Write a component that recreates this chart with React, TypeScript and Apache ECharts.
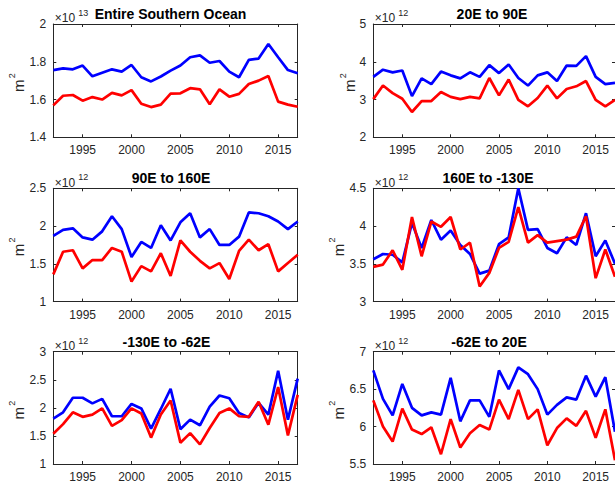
import React, { useEffect, useRef } from "react";
import * as echarts from "echarts";

// ---- Data ----
const years = [
  1992, 1993, 1994, 1995, 1996, 1997, 1998, 1999, 2000, 2001, 2002, 2003, 2004,
  2005, 2006, 2007, 2008, 2009, 2010, 2011, 2012, 2013, 2014, 2015, 2016, 2017,
];
const xTickValues = [1995, 2000, 2005, 2010, 2015];

const titles = [
  "Entire Southern Ocean",
  "20E to 90E",
  "90E to 160E",
  "160E to -130E",
  "-130E to -62E",
  "-62E to 20E",
];
const exponents = [13, 12, 12, 12, 12, 12];
const yMins = [1.4, 2, 1, 3, 1, 5.5];
const yMaxs = [2, 5, 2.5, 4.5, 3, 7];
const yIntervals = [0.2, 1, 0.5, 0.5, 0.5, 0.5];

// values in units of 10^exponent m^2
const soBlue = [1.756, 1.765, 1.76, 1.78, 1.723, 1.742, 1.76, 1.748, 1.783, 1.718, 1.696, 1.722, 1.753, 1.78, 1.824, 1.834, 1.795, 1.804, 1.748, 1.718, 1.81, 1.817, 1.894, 1.824, 1.756, 1.739];
const soRed = [1.569, 1.62, 1.624, 1.594, 1.613, 1.6, 1.635, 1.622, 1.65, 1.578, 1.56, 1.573, 1.631, 1.633, 1.66, 1.654, 1.575, 1.654, 1.615, 1.63, 1.682, 1.7, 1.725, 1.589, 1.573, 1.562];

const e20Blue = [3.6, 3.79, 3.72, 3.77, 3.09, 3.56, 3.41, 3.74, 3.64, 3.56, 3.72, 3.6, 3.91, 3.7, 3.93, 3.57, 3.37, 3.64, 3.72, 3.49, 3.9, 3.89, 4.15, 3.6, 3.41, 3.44];
const e20Red = [3.01, 3.37, 3.17, 3.02, 2.67, 2.96, 2.96, 3.2, 3.07, 3.01, 3.07, 3.03, 3.57, 3.11, 3.53, 2.99, 2.82, 3.04, 3.37, 3.03, 3.28, 3.35, 3.49, 2.99, 2.82, 2.99];

const e90Blue = [1.87, 1.95, 1.97, 1.85, 1.82, 1.93, 2.13, 1.96, 1.59, 1.79, 1.71, 2.01, 1.81, 2.05, 2.17, 1.85, 1.96, 1.75, 1.75, 1.86, 2.18, 2.17, 2.13, 2.06, 1.96, 2.06];
const e90Red = [1.36, 1.66, 1.68, 1.44, 1.55, 1.55, 1.71, 1.66, 1.265, 1.47, 1.4, 1.64, 1.34, 1.81, 1.66, 1.54, 1.44, 1.51, 1.3, 1.67, 1.82, 1.68, 1.76, 1.4, 1.51, 1.62];

const e160Blue = [3.56, 3.63, 3.62, 3.52, 4.04, 3.71, 4.08, 3.82, 3.94, 3.75, 3.63, 3.37, 3.41, 3.76, 3.85, 4.5, 3.95, 3.96, 3.71, 3.64, 3.85, 3.75, 4.17, 3.6, 3.81, 3.5];
const e160Red = [3.46, 3.49, 3.68, 3.42, 4.12, 3.6, 4.06, 3.99, 4.12, 3.69, 3.78, 3.2, 3.38, 3.71, 3.79, 4.25, 3.78, 3.88, 3.78, 3.8, 3.82, 3.86, 4.13, 3.31, 3.69, 3.33];

const w130Blue = [1.81, 1.92, 2.18, 2.18, 2.08, 2.16, 1.85, 1.85, 2.07, 1.99, 1.63, 1.98, 2.34, 1.62, 1.79, 1.69, 2.02, 2.22, 2.17, 1.91, 1.83, 2.09, 1.88, 2.66, 1.79, 2.52];
const w130Red = [1.54, 1.71, 1.92, 1.84, 1.88, 1.99, 1.68, 1.78, 1.99, 1.9, 1.47, 1.88, 2.13, 1.38, 1.55, 1.35, 1.64, 1.91, 1.99, 1.85, 1.84, 2.11, 1.7, 2.37, 1.51, 2.23];

const w62Blue = [6.75, 6.37, 6.15, 6.57, 6.25, 6.15, 6.19, 6.16, 6.65, 6.07, 6.35, 6.35, 6.13, 6.75, 6.5, 6.79, 6.7, 6.5, 6.16, 6.29, 6.39, 6.36, 6.68, 6.4, 6.66, 5.93];
const w62Red = [6.35, 6.0, 5.8, 6.24, 5.96, 5.9, 5.99, 5.63, 6.1, 5.72, 5.91, 6.02, 5.96, 6.36, 6.1, 6.49, 6.1, 6.23, 5.75, 5.98, 6.11, 6.01, 6.21, 5.85, 6.23, 5.55];

const blueSeries = [soBlue, e20Blue, e90Blue, e160Blue, w130Blue, w62Blue];
const redSeries = [soRed, e20Red, e90Red, e160Red, w130Red, w62Red];

// ---- Layout ----
const colLeft = [53.3, 373.3];
const colWidth = [244.4, 243.5];
const rowTop = [24, 188.3, 351.7];
const plotH = 113.3;
const titleX = [170.5, 492, 171, 488, 166.5, 489];
const mX = [18, 349, 18, 338, 18, 338];

const FONT = '"Liberation Sans", Arial, Helvetica, sans-serif';
const AX = "#262626";

export default function App() {
  const ref = useRef<HTMLDivElement>(null);
  useEffect(() => {
    if (!ref.current) return;
    const chart = echarts.init(ref.current, undefined, { renderer: "svg" });

    const grids: any[] = [];
    const xAxes: any[] = [];
    const yAxes: any[] = [];
    const series: any[] = [];
    const graphics: any[] = [];

    for (let i = 0; i < 6; i++) {
      const col = i % 2;
      const row = Math.floor(i / 2);
      const left = colLeft[col];
      const top = rowTop[row];
      grids.push({ left, top, width: colWidth[col], height: plotH, containLabel: false });

      const xBase = {
        gridIndex: i,
        type: "value",
        min: 1992,
        max: 2017,
        splitLine: { show: false },
        axisLine: { show: true, onZero: false, lineStyle: { color: AX, width: 1 } },
        axisTick: {
          show: true,
          inside: true,
          length: 3,
          customValues: xTickValues,
          lineStyle: { color: AX, width: 1 },
        },
      };
      xAxes.push({
        ...xBase,
        position: "bottom",
        axisLabel: {
          show: true,
          customValues: xTickValues,
          formatter: (v: number) => String(v),
          margin: 7,
          fontSize: 12,
          color: AX,
          fontFamily: FONT,
        },
      });
      xAxes.push({ ...xBase, position: "top", axisLabel: { show: false } });

      const yBase = {
        gridIndex: i,
        type: "value",
        min: yMins[i],
        max: yMaxs[i],
        interval: yIntervals[i],
        splitLine: { show: false },
        axisLine: { show: true, onZero: false, lineStyle: { color: AX, width: 1 } },
        axisTick: { show: true, inside: true, length: 3, lineStyle: { color: AX, width: 1 } },
      };
      yAxes.push({
        ...yBase,
        position: "left",
        axisLabel: { show: true, margin: 7, fontSize: 12, color: AX, fontFamily: FONT },
      });
      yAxes.push({ ...yBase, position: "right", axisLabel: { show: false } });

      series.push({
        type: "line",
        xAxisIndex: 2 * i,
        yAxisIndex: 2 * i,
        data: years.map((y, k) => [y, blueSeries[i][k]]),
        showSymbol: false,
        symbol: "none",
        lineStyle: { color: "#0000ff", width: 2.7 },
        itemStyle: { color: "#0000ff" },
        clip: false,
        z: 2,
      });
      series.push({
        type: "line",
        xAxisIndex: 2 * i,
        yAxisIndex: 2 * i,
        data: years.map((y, k) => [y, redSeries[i][k]]),
        showSymbol: false,
        symbol: "none",
        lineStyle: { color: "#ff0000", width: 2.7 },
        itemStyle: { color: "#ff0000" },
        clip: false,
        z: 3,
      });

      // title
      graphics.push({
        type: "text",
        x: titleX[i],
        y: top - 10,
        style: {
          text: titles[i],
          fontSize: 14,
          fontWeight: "bold",
          fontFamily: FONT,
          fill: "#000",
          align: "center",
          verticalAlign: "middle",
        },
      });
      // exponent label
      graphics.push({
        type: "text",
        x: left + 1.5,
        y: top - 5.6,
        style: {
          text: "\u00d710",
          fontSize: 12,
          fontFamily: FONT,
          fill: AX,
          align: "left",
          verticalAlign: "middle",
        },
      });
      graphics.push({
        type: "text",
        x: left + 25,
        y: top - 11,
        style: {
          text: String(exponents[i]),
          fontSize: 9,
          fontFamily: FONT,
          fill: AX,
          align: "left",
          verticalAlign: "middle",
        },
      });
      // y-axis unit label m^2 (rotated)
      const mid = top + plotH / 2;
      graphics.push({
        type: "text",
        x: mX[i],
        y: mid + 5,
        rotation: Math.PI / 2,
        style: {
          text: "m",
          fontSize: 15,
          fontFamily: FONT,
          fill: AX,
          align: "center",
          verticalAlign: "middle",
        },
      });
      graphics.push({
        type: "text",
        x: mX[i] - 6.5,
        y: mid - 5,
        rotation: Math.PI / 2,
        style: {
          text: "2",
          fontSize: 9,
          fontFamily: FONT,
          fill: AX,
          align: "center",
          verticalAlign: "middle",
        },
      });
    }

    chart.setOption({
      animation: false,
      backgroundColor: "#ffffff",
      textStyle: { fontFamily: FONT },
      grid: grids,
      xAxis: xAxes,
      yAxis: yAxes,
      series,
      graphic: { elements: graphics },
    });

    return () => chart.dispose();
  }, []);

  return (
    <div
      ref={ref}
      style={{ position: "absolute", left: 0, top: 0, width: 615, height: 483 }}
    />
  );
}
